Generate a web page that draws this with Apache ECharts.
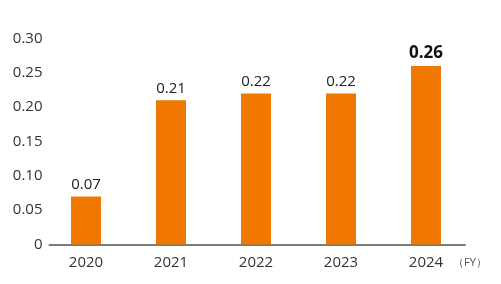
<!DOCTYPE html>
<html><head><meta charset="utf-8">
<script src="https://cdn.jsdelivr.net/npm/echarts@6/dist/echarts.min.js"></script>
<style>html,body{margin:0;padding:0;background:#fff}#c{width:501px;height:284px}</style>
</head><body><div id="c"></div>
<script>
const categories = ['2020','2021','2022','2023','2024'];
const values = [0.07, 0.21, 0.22, 0.22, 0.26];
const yTicks = [0, 0.05, 0.10, 0.15, 0.20, 0.25, 0.30];
const unitLabel = '（FY）';

const chart = echarts.init(document.getElementById('c'), null, {renderer:'canvas'});
const font = '"Open Sans", sans-serif';
chart.setOption({
  animation: false,
  grid: [
    {left: 43.5, right: 32.5, top: 38.5, bottom: 39.5},
    {left: 49.5, right: 36, top: 38.5, bottom: 39.5}
  ],
  xAxis: [
    {type:'category', gridIndex:0, data: categories,
     axisLine:{show:false}, axisTick:{show:false},
     axisLabel:{color:'#333', fontFamily:font, fontSize:15, margin:11}},
    {type:'value', gridIndex:1, min:0, max:1,
     axisLine:{show:true, onZero:false, lineStyle:{color:'#7a7a7a', width:2}},
     axisTick:{show:false}, axisLabel:{show:false}, splitLine:{show:false},
     name: unitLabel, nameLocation:'end', nameGap:-12,
     nameTextStyle:{color:'#555', fontFamily:font, fontSize:11, align:'left', verticalAlign:'top', padding:[13,0,0,0]}}
  ],
  yAxis: [
    {type:'value', gridIndex:0, min:0, max:0.30, interval:0.05,
     axisLine:{show:false}, axisTick:{show:false}, splitLine:{show:false},
     axisLabel:{color:'#333', fontFamily:font, fontSize:15, margin:1,
       formatter: v => { const t = yTicks.find(x => Math.abs(x - v) < 1e-9); return t === 0 ? '0' : (t !== undefined ? t.toFixed(2) : ''); }}},
    {type:'value', gridIndex:1, show:false}
  ],
  series: [{
    type:'bar', xAxisIndex:0, yAxisIndex:0, data: values.map((v,i) => ({
      value: v,
      label: i === values.length-1 ? {fontWeight:'bold', fontSize:17, color:'#111'} : {}
    })),
    barWidth: 30,
    itemStyle:{color:'#f07800'},
    label:{show:true, position:'top', distance:4, color:'#222', fontFamily:font, fontSize:15,
      formatter: p => p.value.toFixed(2)}
  }]
});
</script></body></html>
